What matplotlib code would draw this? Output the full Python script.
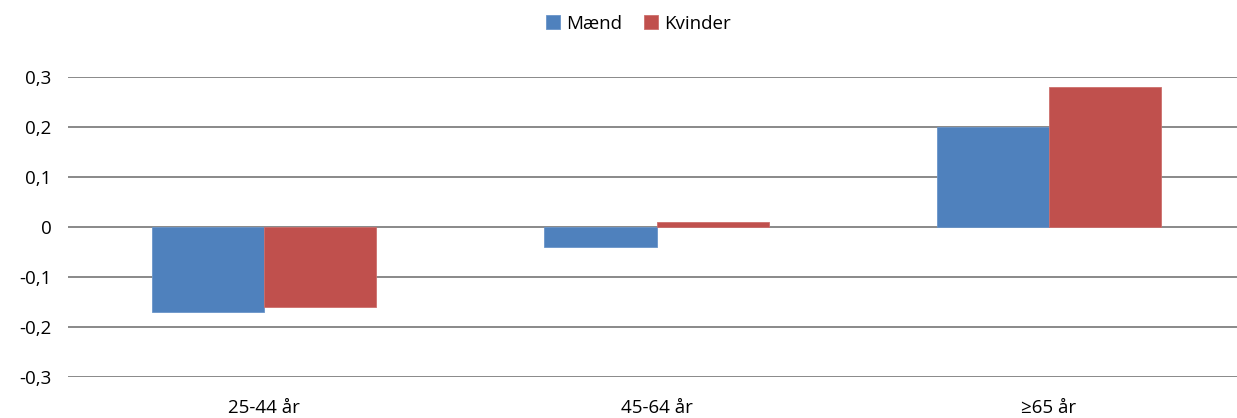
import matplotlib.pyplot as plt
import numpy as np

plt.rcParams['font.family'] = ['Open Sans', 'DejaVu Sans']

categories = ['25-44 år', '45-64 år', '≥65 år']
maend = [-0.17, -0.04, 0.20]
kvinder = [-0.16, 0.01, 0.28]
yticks = [-0.3, -0.2, -0.1, 0, 0.1, 0.2, 0.3]
ytick_labels = ['-0,3', '-0,2', '-0,1', '0', '0,1', '0,2', '0,3']

fig = plt.figure(figsize=(12.37, 4.18), dpi=100)
ax = fig.add_axes([68/1237, 41/418, 1177/1237, 300/418])

x = np.arange(len(categories))
w = 0.286
ax.bar(x - w/2, maend, w, color='#4F81BD', edgecolor='#6A95C9', linewidth=0.6, label='Mænd', zorder=3)
ax.bar(x + w/2, kvinder, w, color='#C0504D', edgecolor='#CC6F6C', linewidth=0.6, label='Kvinder', zorder=3)

ax.set_xlim(-0.5, len(categories) - 0.5)
ax.set_ylim(-0.3, 0.3)
ax.set_yticks(yticks)
ax.set_yticklabels(ytick_labels)
ax.set_xticks(x)
ax.set_xticklabels(categories)
ax.tick_params(axis='both', length=0, labelsize=13.5, colors='black')
ax.tick_params(axis='y', pad=12)
ax.tick_params(axis='x', pad=16)
ax.grid(axis='y', color='#808080', linewidth=1.3, zorder=0)
for s in ax.spines.values():
    s.set_visible(False)

fig.legend(loc='center', bbox_to_anchor=(0.516, 0.943), ncol=2, frameon=False,
           fontsize=13.5, handlelength=0.75, handleheight=0.75, handletextpad=0.3,
           columnspacing=1.2)

fig.savefig('out.png', dpi=100)
